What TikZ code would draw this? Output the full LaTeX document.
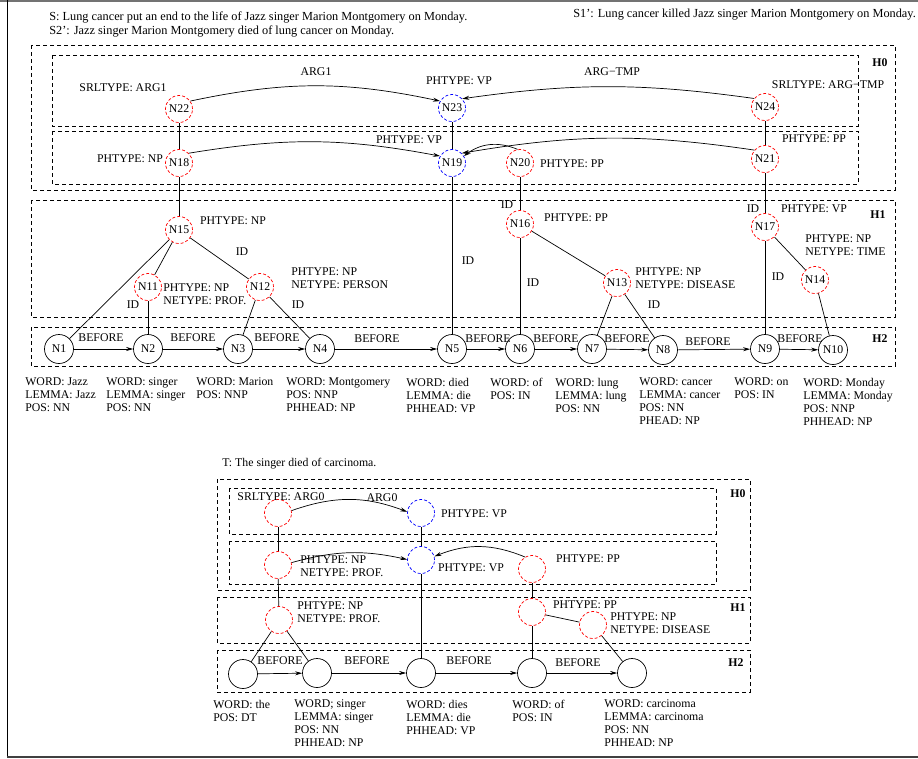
\documentclass[tikz,border=0pt]{standalone}
\usepackage{fontspec}
\setmainfont{Liberation Serif}
\usetikzlibrary{arrows.meta}
\tikzset{
  txt/.style={font=\fontsize{11.8}{13}\selectfont, inner sep=0pt},
  lbl/.style={txt, anchor=north west, align=left, execute at begin node=\strut},
  sent/.style={lbl, font=\fontsize{12.3}{13.5}\selectfont},
  hl/.style={font=\fontsize{11.8}{13}\selectfont\bfseries, inner sep=0pt},
  rn/.style={circle, draw=red, dash pattern=on 3pt off 2pt, minimum size=27pt, inner sep=0pt, txt},
  bn/.style={rn, draw=blue},
  wn/.style={circle, draw, minimum size=29pt, inner sep=0pt, txt},
  dbox/.style={draw, dash pattern=on 4pt off 3pt},
  arr/.style={-{Stealth[length=7pt,width=4pt]}},
  ln/.style={draw}
}
\begin{document}
\begin{tikzpicture}[x=1pt,y=1pt,line width=0.7pt]
\useasboundingbox (0,0) rectangle (918,-758);
% frame
\draw[line width=2pt, black!55] (0,-1) -- (918,-1);
\draw[line width=0.8pt] (7.5,0) -- (7.5,-758);
\draw[line width=1.6pt, black!75] (7,-757) -- (918,-757);

% ---------------- top sentences
\node[sent] (s) at (49,-10.6) {S: Lung cancer put an end to the life of Jazz singer Marion Montgomery on Monday.};
\node[sent] (s2) at (49,-25.1) {S2’: Jazz singer Marion Montgomery died of lung cancer on Monday.};
\node[sent] (s1) at (573,-7.6) {S1’: Lung cancer killed Jazz singer Marion Montgomery on Monday.};

% ---------------- top boxes
\draw[dbox] (31,-45) rectangle (895,-190);
\draw[dbox] (52,-55) rectangle (858,-126);
\draw[dbox] (52,-131) rectangle (858,-184);
\draw[dbox] (31,-200) rectangle (895,-317);
\draw[dbox] (31,-327) rectangle (895,-366);
\node[hl] (h0) at (880,-63) {H0};
\node[hl] (h1) at (878,-215) {H1};
\node[hl] (h2) at (880,-339) {H2};

% ---------------- top nodes
\node[rn] (N22) at (179,-109) {N22};
\node[bn] (N23) at (452,-108) {N23};
\node[rn] (N24) at (765,-107) {N24};
\node[rn] (N18) at (179,-163) {N18};
\node[bn] (N19) at (452,-163) {N19};
\node[rn] (N20) at (520,-163) {N20};
\node[rn] (N21) at (765,-159) {N21};
\node[rn] (N15) at (179,-230) {N15};
\node[rn] (N11) at (148,-287) {N11};
\node[rn] (N12) at (260,-287) {N12};
\node[rn] (N16) at (520,-224) {N16};
\node[rn] (N13) at (617,-283) {N13};
\node[rn] (N17) at (765,-227) {N17};
\node[rn] (N14) at (815,-280) {N14};
\node[wn] (N1) at (59,-349) {N1};
\node[wn] (N2) at (148,-349) {N2};
\node[wn] (N3) at (238,-349) {N3};
\node[wn] (N4) at (320,-349) {N4};
\node[wn] (N5) at (452,-349) {N5};
\node[wn] (N6) at (520,-349) {N6};
\node[wn] (N7) at (592,-349) {N7};
\node[wn] (N8) at (663,-350) {N8};
\node[wn] (N9) at (765,-349) {N9};
\node[wn] (N10) at (833,-350) {N10};

% top labels
\node[txt] (lsrl1) at (123,-88) {SRLTYPE: ARG1};
\node[txt] (larg1) at (316,-72) {ARG1};
\node[txt] (lvp23) at (459,-81) {PHTYPE: VP};
\node[txt] (largt) at (612,-72) {ARG−TMP};
\node[txt] (lsrlt) at (828,-85) {SRLTYPE: ARG−TMP};
\node[txt] (lnp18) at (130,-159) {PHTYPE: NP};
\node[txt] (lvp19) at (409,-140) {PHTYPE: VP};
\node[txt] (lpp20) at (572,-164) {PHTYPE: PP};
\node[txt] (lpp21) at (814,-139) {PHTYPE: PP};
\node[txt] (lnp15) at (233,-221) {PHTYPE: NP};
\node[txt] (id1) at (242,-252) {ID};
\node[txt] (id2) at (133,-305) {ID};
\node[txt] (id3) at (298,-305) {ID};
\node[txt] (id4) at (507,-205) {ID};
\node[txt] (lpp16) at (576,-218) {PHTYPE: PP};
\node[txt] (id5) at (468,-261) {ID};
\node[txt] (id6) at (533,-283) {ID};
\node[txt] (id7) at (654,-305) {ID};
\node[txt] (id8) at (753,-209) {ID};
\node[txt] (lvp17) at (814,-209) {PHTYPE: VP};
\node[txt] (id9) at (778,-277) {ID};
\node[lbl] (l11) at (163,-283.8) {PHTYPE: NP\\NETYPE: PROF.};
\node[lbl] (l12) at (291,-267.8) {PHTYPE: NP\\NETYPE: PERSON};
\node[lbl] (l13) at (635,-267.8) {PHTYPE: NP\\NETYPE: DISEASE};
\node[lbl] (l14) at (805,-234.8) {PHTYPE: NP\\NETYPE: TIME};

% top edges
\draw[arr] (N22.35) to[bend left=12] (N23.150);
\draw[arr] (N24.142) to[bend right=8] (N23.42);
\draw[arr] (N18.45) to[bend left=10] (N19.150);
\draw[arr] (N21.140) to[bend right=9] (N19.45);
\draw[arr] (N20.100) to[bend right=30] (N19.30);
\draw (N22) -- (N18);
\draw (N23) -- (N19);
\draw (N24) -- (N21);
\draw (N18) -- (N15);
\draw (N19) -- (N5);
\draw (N20) -- (N16);
\draw (N21) -- (N17);
\draw (N15) -- (N1);
\draw (N15) -- (N11);
\draw (N15) -- (N12);
\draw (N11) -- (N2);
\draw (N12) -- (N3);
\draw (N12) -- (N4);
\draw (N16) -- (N6);
\draw (N16) -- (N13);
\draw (N13) -- (N7);
\draw (N13) -- (N8);
\draw (N17) -- (N9);
\draw (N17) -- (N14);
\draw (N14) -- (N10);
\draw[arr] (N1) -- (N2);
\draw[arr] (N2) -- (N3);
\draw[arr] (N3) -- (N4);
\draw[arr] (N4) -- (N5);
\draw[arr] (N5) -- (N6);
\draw[arr] (N6) -- (N7);
\draw[arr] (N7) -- (N8);
\draw[arr] (N8) -- (N9);
\draw[arr] (N9) -- (N10);
\node[txt] (b1) at (101,-338) {BEFORE};
\node[txt] (b2) at (193,-338) {BEFORE};
\node[txt] (b3) at (277,-338) {BEFORE};
\node[txt] (b4) at (377,-339) {BEFORE};
\node[txt] (b5) at (488,-339) {BEFORE};
\node[txt] (b6) at (556,-339) {BEFORE};
\node[txt] (b7) at (627,-339) {BEFORE};
\node[txt] (b8) at (708,-342) {BEFORE};
\node[txt] (b9) at (800,-339) {BEFORE};

% top word columns
\node[lbl] (w1) at (25,-377.8) {WORD: Jazz\\LEMMA: Jazz\\POS: NN};
\node[lbl] (w2) at (106,-377.8) {WORD: singer\\LEMMA: singer\\POS: NN};
\node[lbl] (w3) at (196,-377.8) {WORD: Marion\\POS: NNP};
\node[lbl] (w4) at (286,-377.8) {WORD: Montgomery\\POS: NNP\\PHHEAD: NP};
\node[lbl] (w5) at (406,-377.8) {WORD: died\\LEMMA: die\\PHHEAD: VP};
\node[lbl] (w6) at (490,-377.8) {WORD: of\\POS: IN};
\node[lbl] (w7) at (555,-377.8) {WORD: lung\\LEMMA: lung\\POS: NN};
\node[lbl] (w8) at (639,-377.8) {WORD: cancer\\LEMMA: cancer\\POS: NN\\PHEAD: NP};
\node[lbl] (w9) at (734,-377.8) {WORD: on\\POS: IN};
\node[lbl] (w10) at (803,-377.8) {WORD: Monday\\LEMMA: Monday\\POS: NNP\\PHHEAD: NP};

% ---------------- bottom diagram
\node[lbl] (t) at (222,-456.8) {T: The singer died of carcinoma.};
\draw[dbox] (217,-479) rectangle (750,-590);
\draw[dbox] (229,-488) rectangle (716,-534);
\draw[dbox] (229,-541) rectangle (716,-584);
\draw[dbox] (217,-597) rectangle (750,-643);
\draw[dbox] (217,-650) rectangle (750,-692);
\node[hl] (bh0) at (738,-494) {H0};
\node[hl] (bh1) at (738,-608) {H1};
\node[hl] (bh2) at (736,-663) {H2};

\node[rn] (A0) at (278,-513) {};
\node[bn] (B0) at (421,-513) {};
\node[rn] (A1) at (278,-565) {};
\node[bn] (B1) at (421,-560) {};
\node[rn] (C1) at (532,-569) {};
\node[rn] (A2) at (279,-620) {};
\node[rn] (C2) at (532,-612) {};
\node[rn] (D2) at (593,-625) {};
\node[wn] (P1) at (243,-674) {};
\node[wn] (P2) at (317,-673) {};
\node[wn] (P3) at (421,-673) {};
\node[wn] (P4) at (532,-673) {};
\node[wn] (P5) at (632,-673) {};

\node[txt] (bsrl) at (281,-497) {SRLTYPE: ARG0};
\node[txt] (barg0) at (382,-498) {ARG0};
\node[txt] (bvp0) at (474,-514) {PHTYPE: VP};
\node[txt] (bvp1) at (471,-568) {PHTYPE: VP};
\node[txt] (bpp1) at (588,-559) {PHTYPE: PP};
\node[txt] (bpp2) at (585,-605) {PHTYPE: PP};
\node[lbl] (bl1) at (300,-555.8) {PHTYPE: NP\\NETYPE: PROF.};
\node[lbl] (bl2) at (297,-601.8) {PHTYPE: NP\\NETYPE: PROF.};
\node[lbl] (bl3) at (610,-612.8) {PHTYPE: NP\\NETYPE: DISEASE};

\draw[arr] (A0.10) to[bend left=20] (B0.175);
\draw[arr] (A1.10) to[bend left=14] (B1.178);
\draw[arr] (C1.120) to[bend right=22] (B1.15);
\draw (A0) -- (A1);
\draw (A1) -- (A2);
\draw (B0) -- (B1);
\draw (B1) -- (P3);
\draw (C1) -- (C2);
\draw (C2) -- (P4);
\draw (C2) -- (D2);
\draw (D2) -- (P5);
\draw (A2) -- (P1);
\draw (A2) -- (P2);
\draw[arr] (P1) -- (P2);
\draw[arr] (P2) -- (P3);
\draw[arr] (P3) -- (P4);
\draw[arr] (P4) -- (P5);
\node[txt] (bb1) at (280,-661) {BEFORE};
\node[txt] (bb2) at (367,-661) {BEFORE};
\node[txt] (bb3) at (469,-661) {BEFORE};
\node[txt] (bb4) at (578,-663) {BEFORE};

\node[lbl] (bw1) at (213,-699.8) {WORD: the\\POS: DT};
\node[lbl] (bw2) at (294,-699.8) {WORD; singer\\LEMMA: singer\\POS: NN\\PHHEAD: NP};
\node[lbl] (bw3) at (406,-699.8) {WORD: dies\\LEMMA: die\\PHHEAD: VP};
\node[lbl] (bw4) at (512,-699.8) {WORD: of\\POS: IN};
\node[lbl] (bw5) at (604,-699.8) {WORD: carcinoma\\LEMMA: carcinoma\\POS: NN\\PHHEAD: NP};
\end{tikzpicture}
\end{document}
